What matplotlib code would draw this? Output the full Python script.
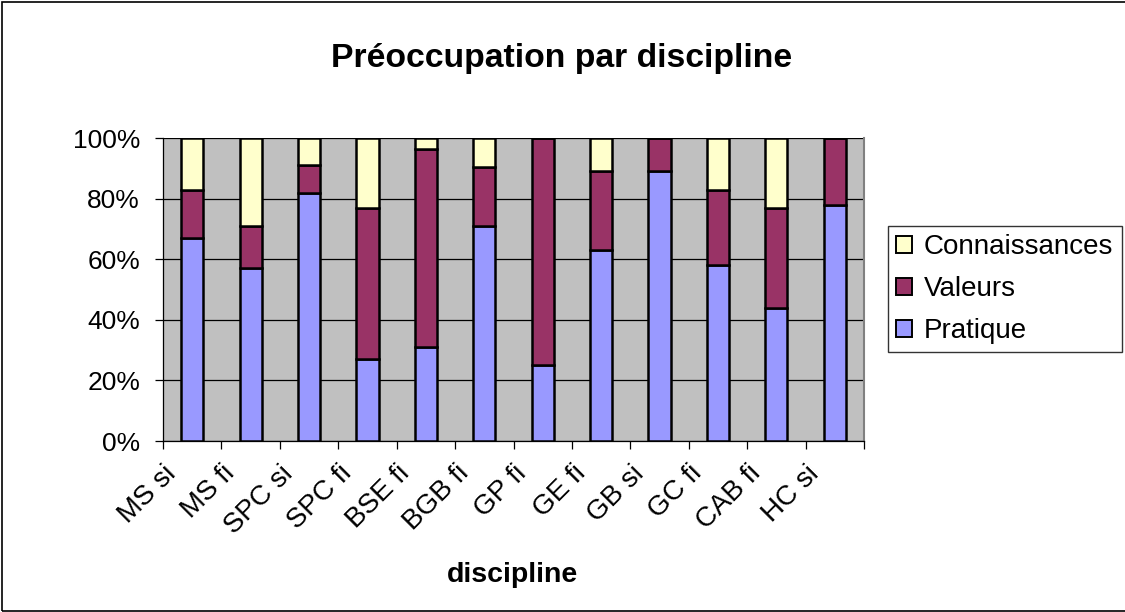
import matplotlib
matplotlib.use("Agg")
import matplotlib.pyplot as plt
import matplotlib.transforms as mtransforms
from matplotlib.patches import Rectangle, Patch
import numpy as np

plt.rcParams['font.family'] = ['Liberation Sans', 'DejaVu Sans']

categories = ["MS si", "MS fi", "SPC si", "SPC fi", "BSE fi", "BGB fi",
              "GP fi", "GE fi", "GB si", "GC fi", "CAB fi", "HC si"]
pratique = [67, 57, 82, 27, 31, 71, 25, 63, 89, 58, 44, 78]
valeurs = [16, 14, 9, 50, 65.5, 19.5, 75, 26, 11, 25, 33, 22]
connaissances = [17, 29, 9, 23, 3.5, 9.5, 0, 11, 0, 17, 23, 0]

series = [("Pratique", pratique, "#9999FF"),
          ("Valeurs", valeurs, "#993366"),
          ("Connaissances", connaissances, "#FFFFCC")]

fig = plt.figure(figsize=(11.25, 6.12), dpi=100)
ax = fig.add_axes([0.1449, 0.2794, 0.6231, 0.4951])
ax.set_facecolor("#C0C0C0")

x = np.arange(len(categories))
bottom = np.zeros(len(categories))
for name, vals, color in series:
    vals = np.array(vals, dtype=float)
    ax.bar(x, vals, width=0.38, bottom=bottom, color=color,
           edgecolor="black", linewidth=1.8, zorder=3)
    bottom += vals

ax.set_xlim(-0.5, len(categories) - 0.5)
ax.set_ylim(0, 100)

# y axis: gridlines + percent labels
ax.set_yticks(range(0, 101, 20))
ax.set_yticklabels([f"{v}%" for v in range(0, 101, 20)], fontsize=19)
ax.yaxis.grid(True, color="black", linewidth=0.9, zorder=1)
ax.tick_params(axis="y", length=5.5, width=0.9, pad=11, direction="out")

# x axis: tick marks between categories, labels rotated
ax.set_xticks(x)
ax.set_xticks(np.arange(-0.5, len(categories)), minor=True)
ax.tick_params(axis="x", which="major", length=0, pad=14)
ax.tick_params(axis="x", which="minor", length=5.5, width=0.9, direction="out")
ax.set_xticklabels(categories, fontsize=20, rotation=45, ha="right",
                   rotation_mode="anchor")
shift = mtransforms.ScaledTranslation(-0.29, 0, fig.dpi_scale_trans)
for lbl in ax.get_xticklabels():
    lbl.set_transform(lbl.get_transform() + shift)

for side in ["left", "bottom"]:
    ax.spines[side].set_color("black")
    ax.spines[side].set_linewidth(0.9)
ax.spines["top"].set_visible(False)
ax.spines["right"].set_color("#808080")
ax.spines["right"].set_linewidth(1.5)

fig.text(562 / 1125, 1 - 67 / 612, "Préoccupation par discipline",
         ha="center", va="baseline", fontsize=24.3, fontweight="bold")
fig.text(512 / 1125, 1 - 582 / 612, "discipline",
         ha="center", va="baseline", fontsize=20.5, fontweight="bold")

handles = [Patch(facecolor=c, edgecolor="black", linewidth=1.4, label=n)
           for n, _, c in reversed(series)]
leg = fig.legend(handles=handles, loc="upper left",
                 bbox_to_anchor=(888 / 1125, 1 - 226 / 612),
                 fontsize=20, frameon=True, fancybox=False, shadow=False,
                 handlelength=0.55, handleheight=0.55, handletextpad=0.45,
                 labelspacing=0.57, borderpad=0.3, borderaxespad=0)
leg.get_frame().set_edgecolor("black")
leg.get_frame().set_linewidth(1.0)

fig.patches.append(Rectangle((0.002, 0.002), 1.0, 0.995, transform=fig.transFigure,
                             fill=False, edgecolor="black", linewidth=1.2))

fig.savefig("out.png", dpi=100)
